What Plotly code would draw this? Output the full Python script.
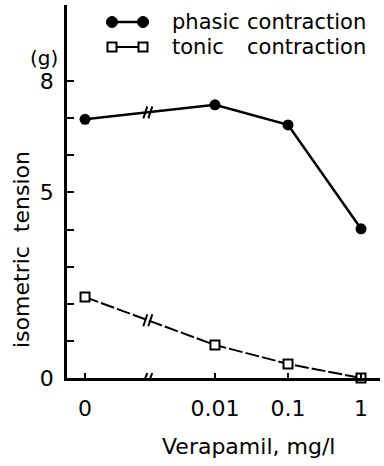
import numpy as np
import plotly.graph_objects as go

# ---- data ----
concentrations = [0, 0.01, 0.1, 1]          # Verapamil, mg/l
x_tick_labels = ["0", "0.01", "0.1", "1"]
phasic = [6.97, 7.36, 6.82, 4.02]           # g
tonic = [2.18, 0.89, 0.38, 0.0]             # g
y_tick_values = [0, 1, 2, 3, 4, 5, 6, 7, 8]
y_tick_labels = ["0", "", "", "", "", "5", "", "", "8"]

# ---- scale: log10 with a broken axis for the control (0) ----
ZERO_POS = -3.78
BREAK_POS = -2.92


def xpos(c):
    return float(np.log10(c)) if c > 0 else ZERO_POS


xs = [xpos(c) for c in concentrations]

# layout geometry (pixels)
W, H = 384, 466
ML, MR, MT, MB = 67, 4, 5, 88
PW, PH = W - ML - MR, H - MT - MB
XR = [-4.027, 0.26]
YR = [0, 10.05]
ux = (XR[1] - XR[0]) / PW   # data units per pixel
uy = (YR[1] - YR[0]) / PH


def pxp(x):
    return (x - ML) / PW


def pyp(y):
    return (H - MB - y) / PH


FONT = "DejaVu Sans"
fig = go.Figure()

fig.add_trace(go.Scatter(
    x=xs, y=phasic, mode="lines+markers",
    line=dict(color="black", width=2.5),
    marker=dict(symbol="circle", size=11, color="black"),
    cliponaxis=False, showlegend=False, name="phasic contraction"))

fig.add_trace(go.Scatter(
    x=xs, y=tonic, mode="lines+markers",
    line=dict(color="black", width=2, dash="14px,3px"),
    marker=dict(symbol="square", size=9, color="white",
                line=dict(color="black", width=2)),
    cliponaxis=False, showlegend=False, name="tonic contraction"))

shapes = []


def break_mark(yb, half_h=6):
    for off in (-2.5, 2.5):
        shapes.append(dict(
            type="line", xref="x", yref="y",
            x0=BREAK_POS + (off - 2) * ux, y0=yb - half_h * uy,
            x1=BREAK_POS + (off + 2) * ux, y1=yb + half_h * uy,
            line=dict(color="black", width=2)))


for series in (phasic, tonic):
    break_mark(float(np.interp(BREAK_POS, xs[:2], series[:2])))
break_mark(0.0, half_h=5)

# legend symbols (drawn in paper coordinates)
r = 5.5
for cx in (112, 143):
    shapes.append(dict(type="circle", xref="paper", yref="paper",
                       x0=pxp(cx - r), x1=pxp(cx + r), y0=pyp(22 + r), y1=pyp(22 - r),
                       fillcolor="black", line=dict(color="black", width=1)))
    s = 4.5
    shapes.append(dict(type="rect", xref="paper", yref="paper",
                       x0=pxp(cx - s), x1=pxp(cx + s), y0=pyp(47 + s), y1=pyp(47 - s),
                       fillcolor="white", line=dict(color="black", width=2)))
shapes.append(dict(type="line", xref="paper", yref="paper",
                   x0=pxp(117), x1=pxp(138), y0=pyp(22), y1=pyp(22),
                   line=dict(color="black", width=2.5)))
shapes.append(dict(type="line", xref="paper", yref="paper",
                   x0=pxp(117), x1=pxp(138), y0=pyp(47), y1=pyp(47),
                   line=dict(color="black", width=2)))

annotations = []


def label(text, x, y, xanchor="left", size=22, angle=0):
    annotations.append(dict(text=text, xref="paper", yref="paper",
                            x=pxp(x), y=pyp(y), xanchor=xanchor, yanchor="middle",
                            showarrow=False, textangle=angle,
                            font=dict(family=FONT, size=size, color="black")))


label("phasic", 170, 22, size=21)
label("contraction", 245, 22, size=21)
label("tonic", 170, 47, size=21)
label("contraction", 245, 47, size=21)
label("(g)", 44, 58, xanchor="center", size=20)
label("isometric  tension", 21, 250, xanchor="center", angle=-90)
label("Verapamil, mg/l", 248, 447, xanchor="center")

fig.update_layout(
    width=W, height=H,
    margin=dict(l=ML, r=MR, t=MT, b=MB, pad=0),
    paper_bgcolor="white", plot_bgcolor="white",
    font=dict(family=FONT, size=22, color="black"),
    shapes=shapes, annotations=annotations,
    xaxis=dict(range=XR, tickmode="array", tickvals=xs, ticktext=x_tick_labels,
               ticks="inside", ticklen=5, tickwidth=2, tickcolor="black",
               showline=True, linecolor="black", linewidth=2.5,
               showgrid=False, zeroline=False, ticklabelstandoff=9,
               tickfont=dict(family=FONT, size=22)),
    yaxis=dict(range=YR, tickmode="array", tickvals=y_tick_values, ticktext=y_tick_labels,
               ticks="inside", ticklen=7, tickwidth=2, tickcolor="black",
               showline=True, linecolor="black", linewidth=2.5,
               showgrid=False, zeroline=False, ticklabelstandoff=6,
               tickfont=dict(family=FONT, size=22)),
)

fig.write_html("out.html", config={"displayModeBar": False},
               post_script="document.body.style.margin='0';")
